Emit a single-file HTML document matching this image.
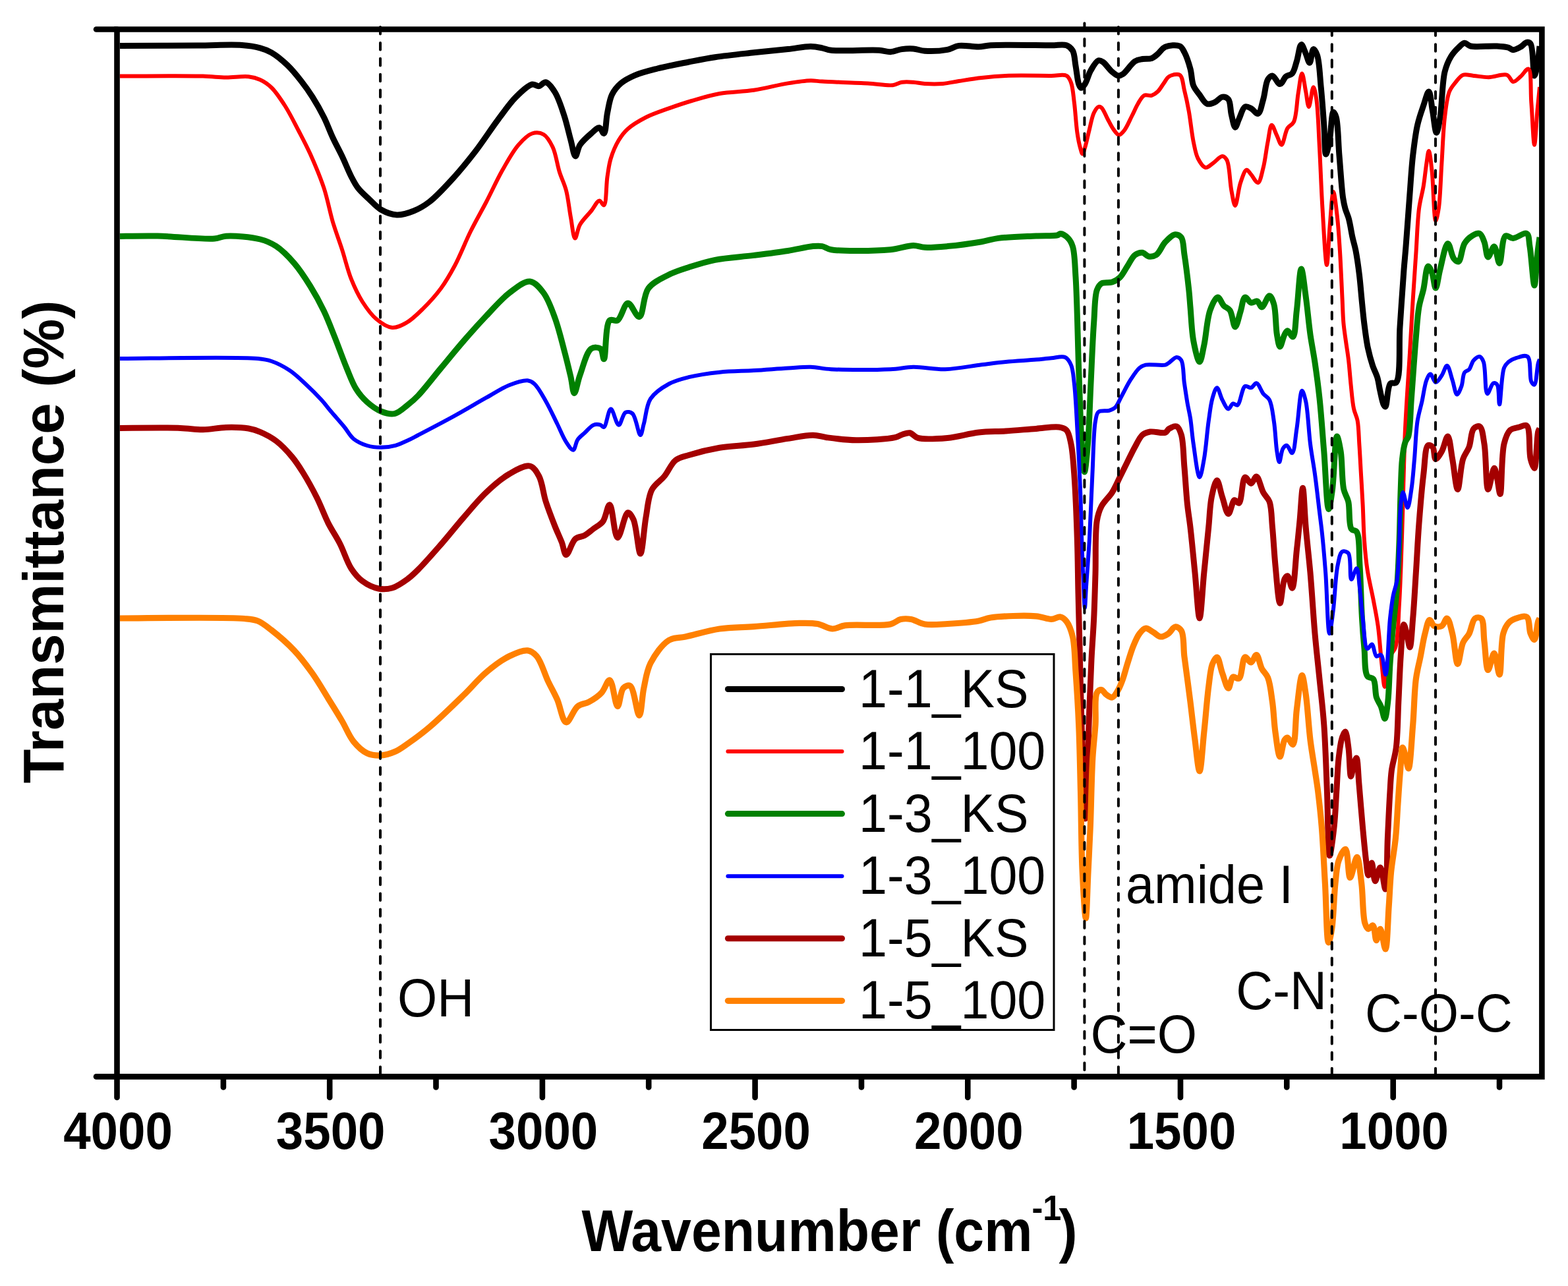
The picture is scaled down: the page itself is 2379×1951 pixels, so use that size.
<!DOCTYPE html>
<html><head><meta charset="utf-8"><title>FTIR spectra</title>
<style>html,body{margin:0;padding:0;background:#fff;overflow:hidden}svg{display:block}</style></head><body>
<svg width="2379" height="1951" viewBox="0 0 2379 1951">
<rect x="0" y="0" width="2379" height="1951" fill="#fff"/>
<g fill="none" stroke-linejoin="round" stroke-linecap="butt">
<path d="M182.0,69.4C201.7,69.3 266.2,69.2 300.0,69.0C325.5,68.9 349.6,67.2 367.0,68.5C378.3,69.3 386.7,70.6 394.7,72.8C401.3,74.6 406.0,76.3 412.0,79.8C419.7,84.3 428.6,91.7 436.0,98.8C443.6,106.1 450.6,114.8 457.0,123.0C463.2,130.9 468.5,138.3 474.0,147.0C480.0,156.5 486.3,167.5 491.5,178.0C496.6,188.2 500.3,199.0 505.0,209.0C509.5,218.6 514.4,227.4 519.0,237.0C523.8,247.0 528.5,259.3 533.0,268.0C536.4,274.6 538.8,279.5 543.0,285.0C547.7,291.2 554.7,297.1 560.6,302.7C566.3,308.1 571.3,314.1 578.0,318.0C585.0,322.0 593.8,325.6 602.0,326.0C610.4,326.4 619.5,323.3 627.7,320.0C636.1,316.7 643.5,312.4 651.8,306.0C662.8,297.5 675.1,283.9 686.4,271.6C698.2,258.7 709.7,244.6 721.0,230.0C732.8,214.7 744.5,196.3 755.5,181.7C765.0,169.0 773.5,156.4 783.0,147.0C790.9,139.1 800.7,129.4 807.4,128.0C811.4,127.2 814.4,131.1 817.8,130.6C821.3,130.1 824.5,124.2 828.0,124.7C832.6,125.4 837.9,133.4 842.0,140.0C847.6,148.9 851.8,162.8 855.8,174.8C859.9,187.1 862.9,201.6 866.0,212.8C868.5,221.8 870.5,236.9 873.0,237.0C875.2,237.1 876.4,225.1 880.0,219.7C884.1,213.5 891.6,207.1 897.0,202.5C901.3,198.9 906.0,193.3 909.4,193.8C912.3,194.2 914.5,203.0 916.3,202.5C919.4,201.7 919.4,181.4 921.5,171.4C923.5,161.9 924.6,151.5 928.4,143.7C931.8,136.8 936.4,131.2 942.0,126.4C947.9,121.3 954.9,117.8 963.0,114.3C972.9,110.1 985.0,107.2 997.5,104.0C1012.0,100.3 1029.8,97.0 1045.0,94.0C1058.9,91.3 1070.4,88.9 1085.0,86.7C1102.7,84.1 1124.7,81.9 1143.7,79.8C1161.5,77.9 1180.0,76.3 1195.5,74.6C1208.2,73.2 1220.5,70.3 1230.0,70.4C1236.8,70.5 1242.0,71.7 1247.4,72.8C1252.2,73.8 1254.6,75.5 1261.0,76.3C1275.6,78.1 1318.0,75.2 1333.8,76.3C1341.5,76.8 1345.3,79.0 1351.0,78.7C1356.8,78.4 1362.6,75.4 1368.4,74.6C1374.1,73.8 1380.0,73.5 1385.7,73.9C1391.5,74.3 1396.2,76.8 1403.0,77.3C1412.5,77.9 1428.1,77.1 1437.5,75.3C1444.4,74.0 1448.1,70.3 1454.8,69.4C1463.4,68.2 1476.2,71.3 1485.0,71.0C1491.8,70.8 1494.7,69.3 1503.0,68.8C1521.8,67.7 1574.7,68.8 1595.2,68.8C1605.4,68.8 1612.5,66.7 1618.2,68.8C1622.4,70.4 1625.2,73.0 1627.5,76.9C1630.6,82.3 1630.5,91.9 1632.0,100.0C1633.6,108.8 1634.7,122.0 1636.7,127.6C1637.7,130.3 1638.6,133.1 1640.0,133.3C1641.6,133.5 1644.1,130.4 1646.0,127.6C1649.2,123.0 1651.4,113.0 1655.0,106.8C1658.3,101.2 1662.8,92.9 1666.6,91.8C1668.9,91.1 1671.0,92.5 1673.5,94.1C1677.6,96.8 1683.0,105.4 1687.4,109.0C1690.6,111.7 1693.7,114.5 1696.6,114.9C1699.0,115.2 1700.9,114.3 1703.5,112.6C1708.5,109.4 1716.1,96.7 1722.0,93.0C1725.9,90.6 1729.4,90.3 1733.5,89.5C1737.8,88.7 1743.3,89.8 1747.3,88.4C1750.9,87.1 1753.4,84.6 1756.5,82.0C1760.2,79.0 1763.1,73.2 1768.0,71.1C1773.8,68.6 1785.1,67.7 1790.0,70.0C1793.6,71.7 1794.7,75.2 1796.9,79.2C1800.2,85.4 1803.7,96.0 1806.0,104.5C1808.3,112.9 1807.9,123.0 1810.7,129.9C1813.0,135.5 1816.6,139.2 1820.0,143.7C1823.5,148.4 1827.1,156.0 1831.4,157.5C1834.9,158.8 1839.3,156.8 1843.0,155.2C1847.0,153.5 1850.8,147.6 1854.5,147.1C1857.6,146.7 1861.4,147.9 1863.7,150.6C1867.2,154.7 1866.5,166.3 1868.3,173.6C1870.0,180.4 1871.9,193.0 1874.0,193.2C1875.8,193.3 1877.6,185.2 1879.8,180.6C1882.5,175.0 1885.1,163.8 1889.0,162.0C1891.7,160.8 1895.2,162.9 1898.2,164.4C1901.7,166.1 1905.8,173.3 1908.6,172.5C1912.4,171.4 1914.3,158.6 1916.7,150.6C1919.4,141.5 1920.0,126.4 1923.6,120.6C1925.5,117.5 1928.0,114.7 1930.5,114.9C1934.0,115.2 1938.4,127.7 1942.0,127.6C1945.3,127.5 1947.8,118.8 1951.2,116.0C1954.1,113.7 1958.0,114.2 1960.5,111.4C1963.9,107.6 1965.2,99.7 1967.4,93.0C1969.9,85.3 1971.6,67.9 1974.3,67.6C1976.4,67.4 1979.1,76.8 1981.2,81.5C1983.3,86.1 1985.2,95.4 1987.0,95.3C1989.1,95.2 1990.3,75.0 1992.7,74.6C1994.4,74.3 1996.9,79.3 1998.5,83.8C2001.9,93.4 2002.5,115.3 2004.2,132.2C2006.0,150.5 2007.5,171.9 2008.8,189.8C2009.9,205.5 2009.7,233.8 2011.7,234.0C2013.0,234.1 2015.4,222.7 2017.0,215.0C2019.4,203.2 2020.2,170.5 2023.0,170.0C2024.3,169.8 2026.1,173.9 2027.3,178.0C2030.3,188.3 2030.3,216.2 2032.0,236.0C2033.8,256.8 2035.5,285.7 2037.6,300.0C2038.7,307.3 2039.5,311.2 2041.0,316.5C2042.4,321.7 2044.7,325.7 2046.3,331.6C2048.5,339.5 2050.1,351.4 2052.0,360.0C2053.6,367.3 2055.4,372.3 2056.9,380.0C2058.9,390.4 2060.9,404.6 2062.4,417.0C2063.9,429.3 2064.8,441.7 2066.0,454.0C2067.2,466.2 2068.3,478.4 2069.8,490.6C2071.4,502.9 2072.9,516.2 2075.3,527.5C2077.4,537.4 2080.0,546.8 2082.7,555.0C2085.0,561.8 2088.2,567.2 2090.0,573.5C2091.8,579.6 2092.2,585.6 2093.7,592.0C2095.3,599.0 2097.2,610.2 2099.3,614.0C2100.2,615.6 2101.1,617.2 2102.0,617.0C2104.6,616.3 2104.7,586.8 2109.5,582.0C2111.9,579.6 2116.1,582.8 2118.5,580.0C2125.8,571.5 2122.1,524.2 2124.0,496.0C2125.9,467.3 2128.3,431.5 2130.0,409.0C2131.1,394.7 2131.9,388.1 2133.0,374.0C2134.7,352.7 2137.1,318.0 2139.0,293.4C2140.6,272.6 2141.6,253.9 2143.7,235.8C2145.6,219.5 2147.5,203.3 2150.6,189.7C2153.1,178.6 2156.7,168.8 2159.8,159.8C2162.4,152.2 2165.6,138.8 2167.8,139.0C2170.4,139.2 2171.7,158.8 2173.6,169.0C2175.6,179.6 2177.3,201.2 2179.4,201.3C2181.2,201.4 2183.3,188.0 2185.0,178.2C2187.9,161.4 2187.9,125.7 2192.0,109.0C2194.5,99.0 2197.4,92.4 2201.3,86.0C2204.6,80.5 2209.0,75.9 2212.8,72.3C2215.9,69.4 2218.8,65.6 2222.0,65.3C2225.0,65.0 2226.9,69.0 2231.2,70.0C2239.6,72.0 2259.8,69.3 2270.4,70.0C2277.7,70.5 2284.2,70.9 2288.8,72.3C2291.7,73.2 2293.1,75.6 2295.7,75.7C2299.0,75.8 2303.7,73.1 2307.2,71.1C2310.6,69.2 2313.6,64.6 2316.4,64.2C2318.5,63.9 2320.6,64.4 2322.2,66.5C2326.7,72.3 2325.7,114.8 2328.0,115.0C2329.4,115.1 2331.3,104.1 2332.6,97.6C2334.2,89.5 2335.4,74.6 2336.0,70.0" stroke="#000000" stroke-width="9"/>
<path d="M182.0,115.6C203.0,115.6 279.0,114.8 308.0,115.6C323.3,116.0 331.4,117.4 343.0,117.5C354.4,117.6 367.6,115.1 377.0,116.2C383.9,117.0 389.1,118.4 394.7,121.0C400.8,123.8 406.4,127.6 412.0,133.0C419.2,140.0 426.1,150.7 432.7,161.0C440.0,172.5 446.9,186.6 453.4,199.0C459.5,210.7 464.9,220.8 470.7,233.6C477.6,249.0 485.7,268.0 491.5,285.4C497.1,302.4 500.2,320.8 505.0,337.0C509.4,351.7 514.4,364.5 519.0,378.7C523.7,393.4 527.5,409.9 533.0,423.7C538.0,436.1 543.4,447.7 550.0,458.0C556.2,467.6 563.0,477.4 571.0,484.0C578.2,490.0 587.0,496.3 595.0,497.0C602.4,497.6 609.8,493.5 617.0,489.4C625.4,484.6 633.4,476.6 641.5,468.6C650.7,459.6 660.9,448.5 669.0,437.5C677.0,426.6 683.1,415.9 690.0,403.0C698.2,387.6 705.8,367.6 714.0,351.0C721.8,335.3 730.0,321.3 738.0,306.0C746.2,290.2 754.0,272.7 762.5,257.8C770.3,244.2 778.1,229.4 786.7,219.7C793.3,212.2 800.3,204.7 807.4,202.5C813.1,200.7 819.8,201.2 824.7,204.0C830.4,207.2 834.7,215.2 838.5,223.0C843.4,233.1 845.2,249.4 848.9,261.0C852.1,271.1 856.3,278.6 859.0,289.0C862.2,301.2 863.6,317.3 866.0,330.0C868.1,341.2 869.8,361.3 872.4,361.5C874.6,361.7 876.2,347.3 880.0,340.7C884.2,333.4 891.8,326.4 897.0,320.0C901.5,314.5 905.8,304.6 909.4,304.4C911.9,304.3 914.5,311.9 916.3,311.3C920.2,310.0 919.5,280.8 921.5,268.0C923.1,257.8 923.9,249.5 926.7,240.5C929.6,231.1 933.9,220.7 938.7,212.8C942.8,206.0 946.6,200.8 952.6,195.5C959.8,189.0 970.1,183.1 980.0,178.0C990.7,172.6 1003.2,168.6 1014.8,164.4C1026.3,160.3 1037.2,156.6 1049.4,153.0C1062.8,149.1 1076.8,144.7 1091.8,142.0C1108.1,139.1 1126.5,139.4 1143.7,136.8C1161.0,134.2 1179.9,128.9 1195.5,126.4C1208.1,124.4 1220.4,122.5 1230.0,122.3C1236.8,122.2 1239.7,123.2 1247.4,123.6C1262.8,124.5 1296.9,125.3 1316.5,126.4C1331.1,127.2 1345.0,130.3 1354.5,129.2C1360.4,128.5 1363.4,125.5 1368.4,124.7C1373.8,123.8 1379.9,124.3 1385.7,124.7C1391.5,125.1 1396.5,126.6 1403.0,127.0C1411.1,127.5 1421.7,127.7 1430.6,127.0C1439.0,126.3 1446.0,124.4 1454.8,123.0C1465.3,121.4 1477.7,119.3 1489.4,118.0C1501.4,116.6 1511.9,115.5 1526.0,114.9C1545.4,114.1 1578.3,114.9 1595.2,114.9C1604.9,114.9 1613.2,112.2 1618.2,114.9C1621.9,116.9 1623.2,120.7 1625.0,125.3C1627.8,132.5 1628.4,144.1 1629.8,155.2C1631.6,168.9 1632.5,188.6 1634.4,201.3C1635.7,210.3 1637.3,218.4 1639.0,224.3C1640.1,228.1 1641.2,233.5 1642.4,233.5C1643.6,233.5 1644.7,228.2 1646.0,224.3C1648.1,217.6 1650.5,205.7 1652.8,196.7C1655.0,188.0 1656.7,177.5 1659.7,171.3C1661.7,167.2 1664.2,162.8 1666.6,162.0C1668.1,161.5 1669.7,162.1 1671.2,163.3C1674.3,165.8 1677.4,174.9 1680.5,180.5C1683.5,186.0 1686.4,192.4 1689.7,196.7C1692.2,200.0 1695.0,204.6 1697.7,204.7C1700.3,204.8 1703.2,201.1 1705.8,197.8C1709.8,192.8 1713.7,183.0 1717.3,176.0C1720.6,169.6 1723.2,163.0 1726.5,157.5C1729.4,152.7 1732.0,146.8 1735.8,144.8C1739.1,143.1 1743.8,145.8 1747.3,144.8C1750.7,143.8 1753.7,141.6 1756.5,139.0C1759.9,135.8 1762.7,130.4 1765.7,126.4C1768.5,122.7 1770.1,118.2 1773.8,116.0C1777.9,113.6 1786.2,111.3 1790.0,113.7C1794.6,116.7 1794.8,128.4 1796.9,136.8C1799.4,146.6 1801.7,157.3 1803.8,169.0C1806.3,182.9 1808.0,202.0 1810.7,215.0C1812.8,224.8 1814.0,233.6 1817.6,240.5C1820.6,246.2 1824.9,253.6 1829.1,254.3C1832.7,254.9 1836.7,250.0 1840.6,247.4C1845.1,244.4 1850.7,236.9 1854.5,237.0C1857.2,237.1 1859.5,239.4 1861.4,242.8C1865.7,250.5 1865.8,276.1 1868.3,288.8C1870.1,297.9 1872.0,311.9 1874.0,311.9C1876.5,311.9 1878.7,287.1 1882.1,277.3C1884.7,269.7 1888.0,258.3 1891.3,257.7C1893.5,257.3 1895.7,262.0 1898.2,264.7C1901.4,268.2 1905.7,277.8 1908.6,277.3C1912.1,276.7 1914.4,263.1 1916.7,254.3C1919.6,243.0 1921.2,226.6 1923.6,215.0C1925.5,205.6 1926.8,190.1 1929.4,189.8C1931.6,189.5 1934.8,200.7 1937.4,205.9C1939.8,210.7 1942.0,219.8 1944.3,219.7C1947.4,219.5 1949.6,200.5 1953.5,194.4C1956.2,190.2 1960.4,190.0 1962.8,185.2C1967.3,176.4 1967.4,154.6 1969.7,141.4C1971.6,130.4 1973.4,111.4 1975.4,111.4C1977.3,111.4 1979.4,130.2 1981.2,139.0C1982.8,147.0 1984.0,162.1 1985.8,162.1C1987.8,162.1 1990.6,132.2 1992.7,132.2C1994.4,132.2 1996.0,142.3 1997.3,150.6C1999.8,166.9 2000.5,198.4 2002.0,224.3C2003.6,253.3 2004.6,286.4 2006.5,316.5C2008.3,345.5 2011.0,402.0 2013.0,402.0C2014.6,402.0 2015.8,363.7 2017.5,345.0C2019.1,326.7 2020.9,291.1 2023.0,291.0C2024.8,291.0 2027.4,316.2 2029.0,330.0C2030.8,345.6 2031.7,361.7 2032.9,380.0C2034.3,402.2 2035.6,433.7 2036.6,454.0C2037.3,468.1 2037.4,478.8 2038.4,490.0C2039.3,499.9 2040.7,508.7 2042.0,518.0C2043.3,527.3 2044.8,536.0 2046.0,546.0C2047.4,557.5 2048.2,570.7 2049.5,583.0C2050.8,595.3 2051.8,609.9 2054.0,620.0C2055.5,627.2 2058.2,630.8 2059.6,638.0C2061.5,648.0 2061.5,662.1 2062.4,675.0C2063.4,689.3 2064.1,705.0 2065.0,720.0C2065.9,735.1 2066.8,749.6 2067.6,765.5C2068.5,782.8 2068.7,802.8 2070.0,820.0C2071.1,835.6 2072.3,849.6 2074.6,864.5C2076.9,879.8 2081.0,895.9 2083.8,910.6C2086.3,924.2 2088.7,935.4 2090.7,949.7C2093.1,967.0 2094.5,990.5 2096.4,1007.3C2097.9,1020.3 2099.1,1042.0 2101.0,1042.0C2103.2,1042.0 2105.1,1006.7 2109.0,996.0C2111.3,989.7 2115.1,988.7 2117.2,982.0C2121.6,968.3 2121.4,940.5 2123.0,915.2C2125.1,882.0 2126.1,840.9 2127.5,800.0C2129.1,753.4 2129.9,697.0 2132.0,650.4C2133.9,609.5 2136.9,570.2 2139.0,535.2C2140.7,505.9 2142.1,480.4 2143.7,454.6C2145.2,430.7 2146.8,408.5 2148.3,385.5C2149.9,362.5 2150.5,335.4 2153.0,316.4C2154.8,302.9 2157.9,293.4 2159.8,281.9C2161.7,270.4 2162.9,257.0 2164.4,247.3C2165.5,240.2 2166.6,228.9 2167.8,228.9C2169.3,228.9 2171.1,246.5 2172.5,258.8C2174.8,278.3 2175.5,334.7 2178.2,334.9C2179.5,335.0 2181.5,324.6 2182.8,316.4C2185.2,300.8 2185.9,270.3 2187.4,247.3C2188.9,224.3 2189.6,197.9 2192.0,178.2C2193.8,163.2 2195.2,148.5 2199.0,139.0C2201.5,132.9 2204.7,129.4 2208.2,125.2C2211.6,121.0 2215.1,115.4 2219.7,113.7C2224.3,112.0 2230.0,114.4 2235.8,114.9C2242.8,115.5 2250.8,117.3 2258.8,117.2C2267.6,117.1 2280.1,111.3 2286.5,113.7C2291.0,115.4 2292.3,123.6 2295.7,124.0C2299.2,124.4 2303.5,119.1 2307.2,116.0C2311.2,112.7 2316.2,103.5 2319.0,104.5C2323.9,106.3 2321.9,137.3 2323.3,155.2C2324.9,175.4 2326.4,219.7 2328.0,219.7C2329.5,219.7 2331.1,182.5 2332.6,166.7C2333.8,153.9 2335.4,137.8 2336.0,132.0" stroke="#ff0000" stroke-width="6"/>
<path d="M182.0,358.4C191.5,358.3 218.0,357.6 239.0,358.0C264.8,358.5 307.7,363.5 325.5,362.0C333.6,361.3 335.6,358.7 343.0,358.2C355.6,357.4 380.9,359.4 394.7,363.0C404.6,365.5 411.1,368.4 419.0,373.6C428.4,379.8 438.1,389.8 446.5,399.5C455.4,409.8 463.2,422.0 470.7,434.0C478.3,446.2 485.2,458.9 491.5,472.0C497.9,485.4 503.0,499.4 508.7,513.6C514.5,528.2 520.4,545.0 526.0,558.5C530.8,569.9 534.4,580.6 540.0,589.6C544.9,597.5 550.6,604.2 557.0,610.0C563.3,615.6 570.7,621.1 578.0,624.0C584.6,626.7 592.0,629.0 598.6,627.6C605.7,626.1 612.8,618.8 619.0,614.0C624.7,609.6 628.7,606.2 634.6,600.0C644.1,590.1 657.5,572.3 669.0,558.5C680.5,544.7 692.0,530.4 703.7,517.0C715.0,503.9 726.4,491.2 738.0,479.0C749.4,467.0 760.9,453.4 772.8,444.4C783.0,436.7 794.9,426.1 804.0,427.0C811.9,427.8 818.8,436.6 824.7,444.4C832.0,454.1 837.0,468.8 842.0,482.5C847.5,497.5 851.7,515.3 855.8,530.8C859.6,545.0 863.2,560.0 866.0,572.0C868.1,581.2 869.1,596.4 871.3,596.5C873.7,596.6 876.3,578.9 880.0,569.0C884.5,556.8 889.7,533.8 897.0,529.0C901.1,526.3 907.8,526.7 911.0,529.0C914.5,531.5 914.6,544.9 916.3,544.7C919.5,544.4 918.0,492.1 925.0,486.0C928.2,483.3 933.3,488.1 937.0,486.0C942.9,482.7 946.9,460.5 952.6,460.0C958.0,459.6 965.2,481.7 970.0,480.7C976.2,479.5 975.5,448.3 983.7,437.5C991.1,427.7 1004.2,422.2 1014.8,416.8C1024.7,411.8 1034.1,409.0 1045.0,405.5C1057.3,401.5 1070.3,397.2 1085.0,394.3C1102.6,390.8 1124.8,389.8 1143.7,387.4C1161.5,385.2 1179.6,383.0 1195.5,380.5C1209.2,378.3 1224.0,374.5 1233.6,373.6C1239.3,373.1 1242.9,372.8 1247.4,373.6C1252.0,374.4 1254.3,377.5 1261.0,378.7C1277.6,381.7 1328.1,380.7 1351.0,378.7C1365.3,377.4 1376.1,372.6 1385.7,372.5C1392.5,372.4 1396.2,374.9 1403.0,375.3C1412.5,375.8 1424.9,374.7 1437.5,373.6C1453.1,372.2 1475.2,369.1 1489.4,366.7C1499.3,365.0 1504.4,362.8 1514.6,361.4C1529.8,359.4 1555.6,358.8 1572.0,358.0C1584.3,357.4 1598.6,358.3 1604.4,356.8C1606.7,356.2 1607.1,354.4 1609.0,354.5C1612.0,354.6 1617.4,358.2 1620.5,361.4C1623.7,364.7 1625.7,368.2 1627.5,374.0C1630.7,384.3 1630.7,400.5 1632.0,420.0C1634.2,454.0 1635.1,515.8 1636.7,560.0C1638.2,599.8 1639.3,644.8 1641.3,673.5C1642.5,691.1 1643.9,716.0 1645.4,716.0C1646.9,716.0 1649.1,690.4 1650.5,673.5C1652.6,648.7 1653.5,612.0 1655.0,581.3C1656.5,550.5 1657.8,514.9 1659.7,489.0C1661.1,470.1 1660.7,449.9 1664.3,440.0C1666.1,435.1 1667.8,432.1 1671.2,430.0C1675.1,427.6 1682.6,429.7 1687.4,428.0C1691.8,426.5 1695.5,424.4 1699.0,421.0C1703.3,416.9 1706.6,409.7 1710.4,404.0C1714.2,398.3 1717.5,390.1 1722.0,386.8C1725.4,384.3 1730.0,382.8 1733.5,383.3C1736.8,383.7 1739.3,388.4 1742.7,389.0C1746.2,389.6 1750.6,389.1 1754.2,386.8C1759.3,383.5 1762.9,372.6 1768.0,367.2C1772.6,362.4 1778.5,356.1 1783.0,355.7C1786.4,355.4 1790.0,357.3 1792.3,360.3C1795.9,365.1 1795.3,375.5 1796.9,385.6C1799.2,400.3 1802.2,425.2 1803.8,440.0C1804.9,450.2 1805.1,455.9 1806.0,466.0C1807.3,480.1 1807.9,501.9 1810.7,516.8C1813.0,528.9 1817.2,549.0 1820.0,549.0C1822.5,549.0 1824.6,533.7 1826.8,523.7C1830.0,509.3 1831.2,483.8 1836.0,470.7C1839.1,462.2 1843.8,451.2 1847.6,451.0C1850.7,450.9 1853.5,460.4 1856.8,463.8C1859.7,466.7 1863.5,467.1 1866.0,470.7C1869.9,476.2 1871.3,496.0 1874.0,496.0C1876.6,496.0 1879.5,480.6 1882.0,473.0C1884.5,465.6 1885.6,451.9 1889.0,451.0C1891.5,450.3 1894.9,458.4 1898.2,459.2C1901.1,459.9 1904.9,456.0 1907.5,456.9C1910.4,457.9 1911.9,466.1 1914.4,466.0C1917.8,465.9 1922.8,448.6 1926.0,448.8C1928.7,448.9 1931.0,455.7 1932.8,461.5C1936.0,471.9 1935.3,495.8 1937.4,507.6C1938.7,515.2 1940.1,525.9 1942.0,526.0C1943.9,526.1 1946.6,511.9 1949.0,507.6C1950.5,505.0 1951.7,501.9 1953.5,501.8C1955.8,501.7 1959.5,511.6 1961.6,511.0C1965.5,509.8 1965.5,485.6 1967.4,470.7C1969.8,452.1 1971.7,408.1 1974.3,408.0C1976.4,407.9 1979.1,434.9 1981.2,450.0C1983.7,467.7 1985.5,489.9 1988.0,507.6C1990.2,522.8 1992.8,535.0 1995.0,550.0C1997.5,567.0 1999.9,584.4 2002.0,604.3C2004.6,628.5 2006.5,657.6 2008.8,685.0C2011.1,713.6 2012.9,772.3 2015.8,772.5C2017.5,772.6 2019.8,755.0 2021.5,742.6C2024.3,722.3 2025.3,662.3 2028.4,662.0C2030.1,661.9 2032.6,675.5 2034.2,685.0C2036.6,699.8 2035.7,728.9 2038.8,742.6C2040.6,750.6 2043.9,753.5 2045.7,761.0C2048.3,771.9 2045.9,795.9 2050.3,802.5C2052.4,805.6 2056.3,803.8 2058.4,807.0C2063.3,814.5 2061.7,838.8 2063.0,857.6C2064.6,881.3 2065.1,915.1 2066.5,938.2C2067.5,955.7 2068.6,969.4 2070.0,984.3C2071.3,998.5 2070.0,1019.0 2074.6,1025.7C2076.9,1029.0 2081.5,1027.3 2083.8,1030.4C2087.5,1035.5 2086.0,1050.5 2088.4,1058.0C2090.2,1063.6 2093.3,1066.8 2095.3,1071.8C2097.6,1077.4 2099.4,1090.4 2101.0,1090.3C2102.9,1090.2 2104.5,1075.2 2105.7,1065.0C2107.5,1049.7 2107.7,1026.5 2109.0,1007.3C2110.3,988.1 2112.0,968.9 2113.7,949.7C2115.5,930.5 2118.0,912.2 2119.5,892.1C2121.2,870.1 2122.1,846.9 2123.0,823.0C2124.0,797.2 2124.3,765.6 2125.2,742.5C2125.9,725.0 2126.0,709.5 2127.5,696.4C2128.6,686.6 2129.9,677.2 2132.0,671.0C2133.3,667.1 2135.5,666.4 2136.8,661.9C2139.9,651.1 2139.7,625.8 2141.4,604.3C2143.5,577.2 2146.1,537.5 2148.3,512.1C2149.9,494.1 2150.6,479.3 2152.9,466.0C2154.7,455.6 2157.6,448.1 2159.8,438.4C2162.2,427.6 2163.6,404.6 2166.7,404.0C2168.4,403.7 2170.8,409.2 2172.5,413.2C2175.0,419.1 2176.2,437.0 2178.2,437.0C2180.4,437.0 2182.3,418.8 2185.0,408.6C2188.2,396.5 2192.7,369.6 2196.6,369.4C2199.7,369.3 2202.2,388.0 2205.9,392.5C2208.0,395.1 2210.7,397.7 2212.8,397.0C2216.7,395.6 2217.8,376.3 2222.0,369.4C2225.2,364.3 2229.3,360.4 2233.5,357.9C2237.1,355.7 2242.0,353.2 2245.0,354.4C2248.3,355.7 2250.0,362.1 2252.0,367.1C2254.5,373.5 2255.0,389.7 2257.7,390.1C2260.1,390.4 2264.3,373.7 2267.0,374.0C2270.2,374.4 2272.4,399.5 2275.0,399.4C2278.2,399.3 2278.4,361.3 2284.2,357.9C2287.3,356.1 2291.3,361.5 2295.7,361.4C2301.6,361.3 2312.2,352.1 2316.4,354.4C2320.4,356.6 2319.5,365.7 2321.0,374.0C2323.5,388.3 2326.0,433.0 2328.0,433.0C2329.8,433.0 2331.1,398.9 2332.6,385.5C2333.7,375.7 2335.4,364.2 2336.0,360.0" stroke="#008000" stroke-width="9"/>
<path d="M182.0,544.0C216.8,544.0 357.5,540.8 391.0,544.0C401.7,545.0 404.7,545.5 412.0,548.0C420.8,551.0 431.0,556.3 439.6,562.0C448.3,567.8 455.9,575.4 463.8,582.7C472.0,590.3 481.2,599.5 488.0,607.0C493.5,613.0 496.8,617.9 502.0,624.0C508.2,631.3 516.5,640.5 522.6,648.0C527.7,654.3 530.7,661.0 536.4,665.7C542.2,670.4 549.9,673.8 557.0,676.0C563.8,678.1 570.9,678.8 578.0,678.8C585.2,678.8 593.0,677.7 600.0,675.8C606.7,674.0 613.0,670.7 619.0,668.0C624.5,665.5 627.9,663.5 634.6,660.0C646.9,653.6 669.2,642.0 686.4,632.6C703.7,623.1 722.5,611.9 738.0,603.2C750.7,596.1 761.6,588.6 772.8,584.2C782.3,580.5 793.6,576.5 800.5,577.3C804.9,577.8 807.4,579.4 810.9,582.5C816.6,587.5 822.5,599.0 828.0,608.4C834.1,618.9 840.0,632.1 845.4,643.0C850.2,652.7 854.3,663.5 859.0,670.6C862.4,675.7 866.7,683.1 869.6,682.7C872.6,682.2 873.4,671.4 876.5,667.0C879.3,662.9 883.2,660.3 887.0,656.8C891.2,652.9 896.1,646.4 900.7,644.7C904.1,643.4 908.2,643.9 911.0,644.7C913.2,645.3 914.6,648.6 916.3,648.0C920.0,646.7 922.9,620.7 926.7,620.5C930.4,620.3 934.8,644.6 938.7,644.7C942.2,644.8 944.7,627.8 949.0,625.7C952.1,624.2 956.5,624.9 959.5,627.4C965.0,631.9 968.5,660.1 971.6,660.0C973.8,659.9 974.8,649.8 976.8,643.0C979.7,632.9 980.4,615.2 987.0,605.0C993.3,595.3 1004.8,588.0 1014.8,582.5C1024.2,577.3 1033.7,575.0 1045.0,572.2C1058.8,568.8 1075.7,566.4 1091.8,564.7C1108.6,562.9 1126.4,563.0 1143.7,562.0C1161.0,561.0 1180.0,559.4 1195.5,558.5C1208.2,557.8 1218.8,556.5 1230.0,556.8C1240.6,557.1 1248.0,559.5 1261.0,560.2C1283.2,561.4 1328.0,561.3 1351.0,560.2C1365.3,559.5 1373.2,557.0 1385.7,556.8C1400.5,556.6 1417.4,560.6 1434.0,560.2C1451.9,559.7 1472.8,555.3 1489.4,553.3C1502.9,551.7 1513.1,550.2 1526.0,549.0C1540.4,547.6 1559.3,546.7 1572.0,545.6C1581.0,544.8 1587.7,543.9 1595.2,543.3C1602.3,542.7 1610.9,539.7 1616.0,542.0C1620.3,543.9 1622.8,548.6 1625.0,553.6C1628.1,560.6 1628.4,569.9 1629.8,581.3C1631.9,599.1 1633.0,625.7 1634.4,650.4C1636.1,678.9 1637.8,713.2 1639.0,742.6C1640.1,769.5 1640.4,794.8 1641.3,820.0C1642.1,843.9 1643.1,871.2 1644.0,890.0C1644.6,902.7 1645.2,922.0 1645.9,922.0C1646.6,922.0 1647.1,902.7 1648.0,890.0C1649.3,871.2 1651.3,845.4 1652.8,820.0C1654.5,789.5 1655.8,751.1 1657.4,719.5C1658.9,691.1 1659.0,654.6 1662.0,638.9C1663.3,632.2 1663.3,627.7 1666.6,625.0C1670.1,622.1 1678.3,624.2 1682.8,622.8C1686.4,621.7 1689.3,620.8 1692.0,618.2C1695.7,614.7 1697.9,608.0 1701.2,602.0C1705.4,594.5 1710.1,584.3 1715.0,576.7C1719.4,569.9 1724.2,562.0 1728.8,558.2C1731.9,555.6 1733.9,554.6 1738.0,553.6C1745.0,551.9 1762.0,555.2 1768.0,553.6C1770.8,552.8 1771.6,551.6 1773.8,550.2C1777.0,548.1 1781.9,542.0 1785.3,542.0C1787.9,542.0 1790.5,543.8 1792.3,546.7C1796.0,552.6 1795.3,570.2 1796.9,581.3C1798.4,591.6 1799.9,601.9 1801.5,611.2C1802.9,619.4 1804.6,625.6 1806.0,634.3C1807.8,645.6 1808.6,659.6 1810.7,673.5C1813.1,689.3 1816.9,723.9 1820.0,724.0C1822.3,724.1 1824.8,707.4 1826.8,696.5C1829.7,680.9 1831.3,655.7 1833.7,639.0C1835.6,626.0 1836.8,613.5 1839.5,604.3C1841.4,597.8 1844.0,588.2 1846.4,588.2C1849.0,588.2 1851.5,601.0 1854.5,606.6C1857.3,611.7 1860.7,620.3 1863.7,620.5C1866.1,620.6 1868.0,613.1 1870.6,612.4C1872.7,611.8 1875.3,615.7 1877.5,614.7C1881.9,612.6 1884.1,588.6 1889.0,586.0C1891.7,584.6 1895.4,588.9 1898.2,588.2C1901.2,587.5 1903.6,580.9 1906.3,581.3C1909.9,581.8 1913.1,592.9 1916.7,597.4C1919.7,601.1 1923.5,602.1 1926.0,606.6C1929.9,613.8 1931.0,627.2 1932.8,639.0C1935.0,652.9 1935.6,673.7 1937.4,685.0C1938.5,691.8 1939.6,701.0 1941.0,701.0C1942.6,701.0 1943.8,684.6 1946.6,680.4C1948.2,677.9 1950.5,675.5 1952.4,675.8C1955.1,676.2 1958.3,687.8 1960.5,687.3C1964.1,686.5 1965.2,664.1 1967.4,650.4C1970.2,633.4 1972.2,593.1 1975.4,592.8C1977.2,592.6 1979.5,601.7 1981.2,609.0C1984.4,623.2 1985.5,653.8 1988.0,673.5C1990.1,690.2 1992.8,703.3 1995.0,719.5C1997.5,737.6 2000.0,760.5 2002.0,777.0C2003.5,789.5 2004.7,797.4 2006.0,810.0C2007.8,826.8 2009.5,847.1 2011.2,869.0C2013.3,896.3 2014.4,961.2 2017.0,961.3C2018.6,961.4 2020.9,940.2 2022.7,926.7C2025.2,907.6 2026.1,873.8 2029.6,857.6C2031.5,848.5 2032.8,838.9 2036.5,836.9C2039.0,835.6 2043.4,836.6 2045.7,839.2C2050.4,844.6 2047.3,878.5 2050.3,879.0C2052.3,879.3 2056.4,861.9 2058.4,862.2C2061.0,862.6 2061.6,881.0 2063.0,892.1C2064.7,905.8 2065.7,922.9 2067.6,938.2C2069.5,953.6 2070.4,982.9 2074.6,984.3C2076.5,984.9 2079.5,977.0 2081.5,977.4C2084.4,978.0 2085.2,994.3 2088.4,995.8C2090.4,996.7 2093.4,992.4 2095.3,993.5C2099.2,995.7 2100.3,1023.5 2102.2,1023.4C2105.4,1023.2 2106.6,960.3 2109.0,938.2C2110.5,924.1 2111.7,914.0 2113.7,903.7C2115.3,895.2 2118.0,890.1 2119.5,880.6C2121.8,865.8 2122.0,842.2 2123.0,823.0C2123.9,803.8 2123.6,779.3 2125.2,765.5C2126.1,757.6 2127.1,747.2 2128.7,747.1C2130.5,747.0 2133.5,770.3 2135.6,770.2C2137.8,770.1 2139.8,753.0 2141.4,742.5C2143.5,729.1 2144.5,712.6 2146.0,696.4C2147.6,678.3 2148.1,654.8 2150.6,638.8C2152.4,627.1 2155.2,619.1 2157.5,608.9C2159.8,598.4 2161.4,583.9 2164.4,576.6C2166.1,572.4 2168.1,567.4 2170.2,567.4C2172.7,567.4 2175.3,579.9 2178.2,580.1C2181.0,580.3 2184.6,573.7 2187.4,569.7C2190.5,565.3 2193.0,554.6 2195.5,554.8C2198.4,555.0 2201.1,569.3 2203.6,576.6C2206.1,583.9 2207.9,598.2 2210.5,598.5C2212.6,598.7 2215.6,590.8 2217.4,585.9C2219.6,580.0 2219.1,569.3 2222.0,565.1C2223.8,562.5 2226.9,562.8 2229.0,560.5C2231.8,557.4 2232.8,550.0 2235.8,546.7C2238.3,543.9 2242.5,540.5 2245.0,541.0C2247.4,541.5 2249.2,544.9 2250.8,549.0C2254.4,558.1 2252.7,596.6 2256.5,597.4C2258.9,597.9 2262.6,582.4 2265.8,581.3C2267.7,580.7 2270.0,581.7 2271.5,583.6C2274.8,587.9 2273.6,613.5 2275.0,613.5C2276.9,613.5 2277.8,568.6 2282.0,558.2C2283.9,553.5 2285.9,551.5 2288.8,549.0C2291.9,546.4 2295.9,544.5 2300.3,543.2C2305.4,541.7 2313.6,538.0 2317.6,541.0C2323.5,545.4 2320.1,572.7 2323.3,579.0C2324.6,581.6 2326.7,584.0 2328.0,583.6C2331.0,582.6 2331.9,557.9 2333.7,551.3C2334.5,548.3 2335.6,546.0 2336.0,545.0" stroke="#0000ff" stroke-width="6"/>
<path d="M182.0,649.4C197.3,649.4 250.5,648.6 273.7,649.4C287.9,649.9 296.5,652.0 308.0,651.8C319.6,651.6 331.4,648.7 343.0,648.4C354.4,648.1 367.6,648.4 377.0,650.0C383.9,651.2 388.5,652.7 394.7,655.3C402.3,658.5 411.3,663.2 419.0,669.0C427.5,675.4 436.0,684.6 443.0,693.0C449.6,700.8 454.3,708.3 460.0,717.5C466.9,728.6 474.6,742.7 481.0,755.5C487.3,768.1 492.0,781.7 498.0,793.6C503.6,804.6 510.1,813.7 515.7,824.7C521.8,836.6 526.4,852.6 533.0,862.7C538.2,870.6 543.2,876.7 550.0,881.7C557.0,886.9 566.4,891.4 574.4,893.0C581.4,894.4 588.1,894.0 595.0,892.0C603.0,889.6 612.1,883.0 619.0,878.0C625.0,873.6 628.6,870.0 634.6,864.0C644.0,854.6 657.6,839.0 669.0,826.0C680.7,812.6 692.0,798.1 703.7,784.7C715.1,771.7 726.0,757.9 738.0,746.7C749.1,736.2 761.0,725.8 772.8,719.0C783.0,713.1 796.2,705.1 804.0,707.0C810.2,708.5 814.1,715.6 817.8,722.5C822.9,732.0 824.0,747.9 828.0,760.5C832.1,773.3 837.6,787.3 842.0,798.5C845.6,807.5 849.3,815.1 852.3,822.7C854.9,829.4 856.0,841.4 859.0,841.7C862.6,842.0 867.3,822.3 873.0,817.5C877.1,814.0 882.5,814.7 887.0,812.3C891.8,809.7 896.1,805.4 900.7,802.0C905.3,798.5 910.7,796.5 914.5,791.6C919.3,785.3 921.7,765.5 925.0,765.7C929.4,766.0 932.0,815.4 937.0,815.8C941.4,816.1 947.6,778.6 952.6,777.8C955.5,777.4 958.5,782.9 961.0,788.0C965.9,798.3 968.5,840.1 971.6,840.0C974.8,839.9 976.9,801.8 980.0,784.7C982.7,769.8 983.3,754.1 988.9,743.2C993.5,734.3 1002.0,729.9 1008.0,722.5C1014.1,714.9 1018.2,703.7 1025.0,698.3C1030.8,693.7 1036.8,693.1 1045.0,690.5C1057.2,686.7 1075.7,682.0 1091.8,679.3C1108.6,676.5 1126.4,676.3 1143.7,674.0C1161.0,671.7 1179.5,667.8 1195.5,665.4C1209.2,663.3 1222.8,660.0 1233.6,660.2C1241.6,660.3 1246.1,662.6 1254.3,663.7C1266.4,665.3 1283.2,667.6 1299.2,667.8C1317.5,668.0 1346.5,666.3 1358.0,663.7C1363.0,662.5 1364.8,660.6 1368.4,659.5C1372.2,658.3 1376.6,656.1 1380.5,656.8C1384.7,657.5 1387.0,662.8 1392.6,664.4C1402.6,667.3 1422.4,665.7 1437.5,664.4C1453.2,663.0 1469.7,657.7 1485.0,656.0C1499.1,654.4 1511.9,654.8 1526.0,653.9C1540.9,653.0 1557.7,651.4 1572.0,650.4C1584.4,649.5 1598.4,646.7 1606.7,648.0C1611.7,648.8 1615.3,649.6 1618.2,652.7C1622.1,656.9 1623.2,665.1 1625.0,673.5C1627.6,685.7 1628.4,701.2 1629.8,719.5C1631.8,746.5 1633.4,788.4 1634.4,820.0C1635.3,848.2 1635.4,873.3 1636.0,900.0C1636.6,926.7 1637.3,951.8 1638.0,980.0C1638.8,1011.5 1639.6,1048.5 1640.5,1080.0C1641.3,1108.2 1642.0,1133.2 1643.0,1160.0C1644.0,1187.2 1645.3,1242.0 1646.5,1242.0C1647.7,1242.0 1649.0,1187.5 1650.0,1160.0C1651.1,1132.2 1651.8,1103.3 1652.8,1076.0C1653.8,1050.0 1654.8,1024.0 1656.0,1000.0C1657.1,978.3 1658.7,959.2 1659.7,938.0C1660.7,915.9 1661.3,893.6 1662.0,870.0C1662.8,844.4 1661.2,808.2 1664.3,790.0C1665.9,780.2 1667.6,774.9 1671.2,768.0C1675.1,760.6 1682.7,754.4 1687.4,747.0C1692.0,739.7 1695.2,731.7 1699.0,724.0C1702.8,716.3 1706.6,708.7 1710.4,701.0C1714.2,693.3 1718.0,685.2 1722.0,678.0C1725.7,671.4 1729.0,663.4 1733.5,659.6C1736.9,656.7 1740.4,655.8 1745.0,655.0C1751.3,654.0 1763.1,658.1 1768.0,656.2C1770.9,655.1 1771.3,651.9 1773.8,650.4C1776.8,648.6 1782.3,645.8 1785.3,647.0C1788.6,648.4 1790.5,653.8 1792.3,659.6C1795.6,670.3 1795.4,691.2 1796.9,708.0C1798.5,726.4 1799.7,748.9 1801.5,765.6C1802.9,778.6 1804.4,786.5 1806.0,800.0C1808.2,819.0 1810.7,846.0 1813.0,869.0C1815.3,892.0 1817.7,938.0 1820.0,938.0C1822.3,938.0 1824.5,892.0 1826.8,869.0C1829.1,846.0 1831.6,820.7 1833.7,800.0C1835.4,783.1 1835.6,766.9 1838.3,754.0C1840.3,744.2 1843.7,728.8 1846.4,728.8C1849.1,728.8 1851.6,745.6 1854.5,754.0C1857.4,762.5 1860.5,779.4 1863.7,779.5C1866.7,779.6 1869.5,759.7 1873.0,758.7C1875.1,758.1 1877.8,764.1 1879.8,763.3C1884.2,761.6 1884.5,725.3 1889.0,724.0C1891.6,723.3 1895.3,733.6 1898.2,733.4C1901.1,733.2 1903.7,722.7 1906.3,723.0C1910.0,723.5 1913.0,740.4 1916.7,747.2C1919.6,752.6 1923.7,754.9 1926.0,761.0C1929.5,770.4 1929.1,785.7 1930.5,800.0C1932.2,817.3 1933.1,838.4 1935.0,857.6C1936.9,876.8 1939.4,915.1 1942.0,915.2C1944.1,915.3 1945.8,884.5 1949.0,878.3C1950.3,875.7 1952.1,873.4 1953.5,873.7C1956.0,874.2 1958.5,892.4 1960.5,892.2C1963.9,891.8 1965.4,852.6 1967.4,834.6C1969.2,818.8 1970.5,805.3 1972.0,790.0C1973.6,773.9 1975.1,740.3 1976.6,740.3C1978.2,740.3 1979.4,779.4 1981.2,800.0C1983.1,822.2 1985.8,844.3 1988.0,869.0C1990.5,897.5 1992.5,932.8 1995.0,961.3C1997.2,986.0 1999.7,1007.4 2002.0,1030.4C2004.3,1053.4 2007.0,1074.3 2008.8,1099.5C2011.0,1129.8 2012.0,1166.7 2013.4,1200.0C2014.8,1232.9 2014.7,1297.9 2017.3,1298.0C2019.0,1298.1 2022.5,1269.1 2024.2,1253.7C2026.0,1237.1 2026.6,1219.2 2027.7,1201.9C2028.9,1184.6 2029.4,1164.9 2031.1,1150.0C2032.4,1138.6 2033.7,1127.2 2036.0,1120.0C2037.4,1115.6 2039.6,1109.8 2041.0,1110.0C2043.2,1110.3 2044.7,1125.5 2046.0,1135.0C2047.7,1147.4 2047.8,1177.9 2049.6,1178.0C2050.8,1178.1 2052.4,1165.1 2054.0,1160.0C2055.2,1156.1 2056.9,1149.8 2058.0,1150.0C2060.2,1150.3 2060.6,1175.1 2062.0,1190.0C2063.7,1208.8 2065.5,1233.6 2067.4,1253.7C2069.1,1271.9 2070.9,1291.9 2072.6,1305.6C2073.7,1314.6 2074.5,1327.9 2076.0,1328.0C2077.4,1328.1 2079.6,1308.9 2081.2,1309.0C2083.1,1309.1 2084.0,1336.5 2086.4,1336.7C2088.5,1336.9 2091.8,1315.8 2094.2,1316.0C2097.1,1316.2 2100.1,1349.2 2102.0,1349.0C2104.8,1348.7 2104.2,1296.2 2105.4,1271.0C2106.5,1247.3 2107.7,1220.8 2108.9,1201.9C2109.7,1188.8 2109.9,1179.8 2111.4,1168.6C2113.0,1157.1 2116.6,1147.6 2118.3,1134.0C2120.7,1115.0 2120.7,1088.0 2121.8,1065.0C2123.0,1042.0 2123.7,1016.8 2125.2,995.8C2126.5,978.2 2127.5,947.7 2129.8,947.4C2131.0,947.3 2132.7,955.2 2134.0,960.0C2135.8,966.3 2137.6,982.1 2139.0,982.0C2141.0,981.9 2142.3,954.5 2143.7,938.2C2145.5,917.8 2146.8,892.5 2148.3,869.1C2149.9,844.8 2151.0,819.8 2152.9,795.0C2154.8,769.9 2157.1,741.2 2159.8,719.5C2161.9,702.9 2162.0,678.6 2166.7,675.7C2168.6,674.5 2171.8,676.1 2173.6,678.0C2176.5,681.1 2175.6,695.8 2178.2,696.4C2180.5,696.9 2184.6,689.7 2187.4,685.0C2191.0,678.9 2194.0,661.7 2196.6,661.9C2199.6,662.2 2201.3,684.1 2203.6,696.4C2206.3,710.6 2208.9,742.5 2211.6,742.5C2214.3,742.5 2215.8,708.1 2219.7,696.4C2222.3,688.6 2226.4,684.9 2229.0,678.0C2232.0,669.9 2231.7,655.0 2235.8,650.4C2238.2,647.7 2242.6,645.7 2245.0,647.0C2249.1,649.1 2250.1,662.4 2252.0,673.4C2255.0,690.9 2254.3,742.2 2257.7,742.5C2260.1,742.7 2264.6,710.4 2267.0,710.3C2268.3,710.3 2269.3,715.5 2270.4,719.5C2272.4,726.6 2274.5,749.5 2276.1,749.4C2278.7,749.3 2277.7,690.5 2282.0,673.4C2284.3,664.1 2286.6,656.9 2291.1,652.7C2294.8,649.4 2300.6,649.2 2305.0,648.0C2309.0,647.0 2313.5,643.7 2316.4,645.8C2322.4,650.2 2319.2,684.9 2322.2,696.4C2323.8,702.6 2326.4,710.5 2328.0,710.3C2331.1,709.8 2331.4,663.4 2333.7,655.0C2334.4,652.3 2335.6,650.8 2336.0,650.0" stroke="#a40000" stroke-width="9"/>
<path d="M182.0,938.0C213.4,938.1 339.4,935.8 370.5,938.5C380.8,939.4 384.4,939.4 391.0,942.0C398.3,944.9 404.4,950.1 412.0,956.0C422.3,964.0 436.1,975.9 446.5,987.0C456.7,997.8 465.4,1009.6 474.0,1021.7C482.6,1033.9 490.3,1047.3 498.0,1059.7C505.3,1071.4 512.4,1082.8 519.0,1094.0C525.2,1104.5 529.5,1116.6 536.4,1125.0C542.4,1132.4 549.6,1139.3 557.0,1142.7C563.6,1145.7 571.0,1146.4 578.0,1146.0C585.3,1145.6 593.1,1143.0 600.0,1140.0C606.8,1137.0 611.9,1132.9 619.0,1128.0C628.6,1121.3 639.9,1113.1 651.8,1103.0C667.4,1089.8 688.3,1069.3 703.7,1054.3C716.4,1041.9 726.0,1029.7 738.0,1019.7C749.1,1010.3 761.4,1001.0 772.8,995.5C782.2,990.9 793.0,985.9 800.5,986.9C806.1,987.6 810.1,990.7 814.3,995.5C821.1,1003.2 826.1,1022.0 831.6,1033.6C836.4,1043.6 841.0,1051.4 845.4,1061.2C850.2,1072.0 853.4,1095.1 859.0,1095.8C864.0,1096.4 869.8,1076.8 876.5,1071.6C881.8,1067.5 888.1,1067.9 893.8,1064.7C900.2,1061.2 907.6,1056.4 912.8,1050.8C917.9,1045.4 921.4,1031.3 925.0,1031.8C929.9,1032.5 933.3,1071.6 937.0,1071.6C940.1,1071.6 941.1,1048.7 945.7,1044.0C948.5,1041.1 953.0,1038.9 956.0,1040.5C962.3,1043.7 966.4,1085.6 969.9,1085.4C973.2,1085.2 973.9,1057.4 976.8,1044.0C979.6,1031.0 981.0,1017.8 987.0,1006.0C993.4,993.5 1004.5,977.6 1014.8,971.3C1022.6,966.5 1030.1,968.2 1040.0,966.0C1054.2,962.9 1074.4,956.6 1091.8,954.0C1109.0,951.5 1125.2,951.9 1143.7,950.6C1165.1,949.1 1194.9,945.7 1212.8,945.4C1224.1,945.2 1231.9,944.9 1240.5,946.5C1248.5,948.0 1255.8,953.8 1263.0,954.0C1269.6,954.2 1273.6,950.1 1282.0,948.9C1297.7,946.6 1336.4,950.5 1351.0,947.0C1358.3,945.2 1361.3,940.7 1366.7,939.5C1371.8,938.4 1376.7,938.5 1382.2,939.5C1388.7,940.6 1395.1,945.7 1403.0,947.0C1412.9,948.7 1425.1,947.2 1437.5,946.5C1452.1,945.7 1473.0,944.2 1485.0,942.0C1492.5,940.6 1495.0,938.2 1503.0,937.0C1518.5,934.6 1555.2,933.4 1572.0,934.8C1581.8,935.6 1588.5,939.6 1595.2,939.4C1600.4,939.3 1605.0,935.2 1609.0,936.0C1612.6,936.7 1615.5,939.4 1618.2,942.9C1622.1,948.0 1625.2,956.5 1627.5,966.0C1630.8,979.9 1630.6,999.5 1632.0,1019.0C1633.7,1043.0 1635.5,1071.2 1636.7,1099.5C1638.1,1131.1 1638.6,1164.9 1639.5,1200.0C1640.5,1238.7 1640.5,1286.8 1642.2,1322.0C1643.5,1348.9 1645.9,1393.0 1647.4,1393.0C1648.9,1393.0 1649.8,1346.3 1651.0,1323.0C1652.1,1299.8 1653.3,1279.1 1654.3,1253.7C1655.6,1222.6 1656.1,1178.4 1657.8,1150.0C1659.0,1130.2 1660.9,1116.2 1662.0,1099.5C1663.1,1083.2 1660.1,1058.3 1664.3,1051.0C1666.0,1048.0 1669.0,1046.3 1671.2,1046.5C1673.6,1046.8 1675.5,1051.6 1678.2,1053.5C1680.9,1055.4 1684.6,1058.6 1687.4,1058.0C1690.8,1057.2 1694.0,1050.9 1696.6,1046.5C1699.4,1041.8 1701.4,1036.3 1703.5,1030.4C1706.0,1023.5 1707.9,1015.4 1710.4,1007.4C1713.2,998.6 1716.2,987.9 1719.6,979.7C1722.4,972.8 1725.2,965.9 1728.8,961.3C1731.6,957.7 1734.6,953.6 1738.0,953.2C1741.5,952.7 1745.8,956.9 1749.6,959.0C1753.5,961.1 1757.1,965.7 1761.0,966.0C1764.8,966.3 1769.1,963.6 1772.6,961.3C1776.4,958.8 1779.5,951.4 1783.0,951.0C1786.1,950.6 1790.0,953.1 1792.3,956.7C1796.7,963.6 1795.3,983.3 1796.9,995.9C1798.4,1007.8 1800.0,1018.9 1801.5,1030.4C1803.0,1041.9 1804.4,1052.0 1806.0,1065.0C1808.1,1081.8 1810.5,1104.3 1813.0,1122.6C1815.2,1139.2 1817.8,1170.0 1820.0,1170.0C1822.4,1170.0 1824.6,1131.4 1826.8,1111.0C1829.2,1088.9 1831.2,1061.0 1833.7,1042.0C1835.5,1028.5 1836.4,1015.3 1839.5,1007.4C1841.4,1002.7 1844.3,996.7 1846.4,997.0C1849.4,997.4 1851.6,1013.3 1854.5,1021.2C1857.4,1029.0 1860.9,1044.2 1863.7,1044.2C1866.2,1044.2 1867.1,1028.8 1870.6,1027.0C1873.1,1025.7 1877.2,1030.8 1879.8,1029.3C1884.6,1026.5 1884.7,998.3 1889.0,997.0C1891.6,996.2 1895.4,1005.3 1898.2,1005.0C1901.2,1004.6 1903.8,993.2 1906.3,993.5C1909.4,993.9 1911.2,1008.2 1914.4,1014.3C1917.1,1019.5 1921.1,1022.0 1923.6,1028.0C1927.3,1037.1 1928.6,1052.0 1930.5,1065.0C1932.6,1079.5 1932.9,1096.6 1935.0,1111.0C1936.9,1124.0 1939.4,1147.8 1942.0,1147.9C1944.2,1148.0 1946.1,1127.0 1949.0,1122.6C1950.4,1120.6 1951.9,1118.9 1953.5,1119.1C1955.9,1119.4 1959.5,1130.1 1961.6,1129.5C1965.9,1128.3 1965.1,1094.0 1967.4,1076.5C1969.7,1059.1 1972.8,1024.8 1975.4,1024.7C1977.4,1024.7 1979.4,1041.8 1981.2,1053.5C1983.9,1071.5 1985.4,1101.9 1988.0,1122.6C1990.1,1139.5 1992.9,1154.8 1995.0,1168.7C1996.7,1180.1 1998.1,1188.1 1999.6,1200.0C2001.5,1215.5 2003.6,1233.7 2005.2,1253.7C2007.3,1279.1 2008.7,1310.9 2010.4,1340.0C2012.2,1369.7 2012.7,1429.7 2015.6,1430.0C2017.0,1430.1 2019.3,1418.3 2020.7,1409.3C2023.3,1393.0 2023.9,1359.1 2026.0,1340.0C2027.5,1326.5 2027.8,1314.9 2031.1,1305.6C2033.6,1298.5 2038.8,1287.8 2041.5,1288.3C2045.5,1289.1 2045.2,1331.2 2048.4,1331.5C2051.2,1331.7 2056.0,1300.2 2058.8,1300.4C2061.9,1300.6 2063.8,1325.4 2065.7,1340.0C2068.0,1358.0 2067.4,1389.7 2070.9,1400.6C2072.3,1405.0 2073.9,1408.9 2076.0,1409.3C2078.0,1409.7 2081.1,1403.3 2083.0,1404.0C2086.0,1405.1 2086.2,1426.5 2088.2,1426.6C2090.0,1426.7 2092.2,1409.2 2094.2,1409.3C2096.8,1409.4 2100.0,1440.2 2102.0,1440.0C2104.9,1439.8 2105.7,1395.2 2107.2,1374.7C2108.5,1356.4 2108.9,1340.1 2110.6,1322.9C2112.3,1305.6 2115.8,1288.3 2117.5,1271.0C2119.2,1253.7 2119.8,1236.1 2121.0,1219.0C2122.1,1202.4 2123.2,1185.1 2124.5,1170.0C2125.6,1157.1 2126.1,1134.2 2128.0,1134.0C2129.1,1133.9 2130.7,1140.7 2132.0,1145.0C2133.7,1150.8 2135.5,1166.1 2137.0,1166.0C2139.7,1165.8 2141.8,1121.9 2143.7,1099.5C2145.6,1076.7 2145.8,1049.4 2148.3,1030.4C2150.1,1016.8 2152.9,1007.3 2155.2,995.8C2157.5,984.3 2159.3,971.3 2162.0,961.3C2164.1,953.4 2166.2,941.0 2169.0,940.5C2171.1,940.2 2172.9,948.2 2176.0,949.7C2179.1,951.2 2184.2,951.3 2187.4,949.7C2190.9,947.9 2193.1,937.9 2195.5,938.2C2198.7,938.6 2201.2,952.2 2203.6,961.3C2206.9,973.9 2208.6,1007.2 2211.6,1007.3C2214.1,1007.4 2216.0,983.3 2219.7,975.0C2222.3,969.2 2226.2,966.6 2229.0,961.3C2232.4,954.8 2233.7,941.1 2238.0,938.2C2240.6,936.4 2245.0,936.2 2247.3,938.2C2251.8,942.1 2250.4,960.6 2252.0,972.8C2253.8,986.5 2254.6,1016.2 2257.7,1016.5C2260.1,1016.8 2264.2,991.0 2267.0,991.2C2270.1,991.4 2272.9,1023.6 2275.0,1023.4C2277.9,1023.2 2276.8,975.1 2280.7,961.3C2282.8,953.9 2285.2,949.0 2288.8,945.1C2291.9,941.7 2296.0,939.7 2300.3,938.2C2305.1,936.5 2312.7,933.5 2316.4,936.0C2321.0,939.2 2319.6,955.1 2322.2,961.3C2323.9,965.3 2326.4,970.8 2328.0,970.5C2330.7,970.0 2331.9,948.2 2333.7,942.8C2334.5,940.5 2335.6,938.8 2336.0,938.0" stroke="#ff8000" stroke-width="9.2"/>
</g>
<g stroke="#000" stroke-width="4" stroke-dasharray="10.6 13.3" stroke-linecap="round" fill="none">
<line x1="577.0" y1="41" x2="577.0" y2="1633.4"/>
<line x1="1645.4" y1="35.2" x2="1645.4" y2="1633.4"/>
<line x1="1696.9" y1="41" x2="1696.9" y2="1633.4"/>
<line x1="2020.8" y1="43.3" x2="2020.8" y2="1633.4"/>
<line x1="2178.0" y1="43.3" x2="2178.0" y2="1633.4"/>
</g>
<g stroke="#000" stroke-width="8.6" fill="none" stroke-linecap="round" stroke-linejoin="round">
<path d="M177.5,44.5 H2339.4 V1633.4 H177.5 Z" stroke-linejoin="miter"/>
<line x1="177.5" y1="44.5" x2="146" y2="44.5"/>
<line x1="177.5" y1="1633.4" x2="146" y2="1633.4"/>
<line x1="177.5" y1="1633.4" x2="177.5" y2="1665"/>
<line x1="338.9" y1="1633.4" x2="338.9" y2="1649.5"/>
<line x1="500.2" y1="1633.4" x2="500.2" y2="1665"/>
<line x1="661.5" y1="1633.4" x2="661.5" y2="1649.5"/>
<line x1="822.9" y1="1633.4" x2="822.9" y2="1665"/>
<line x1="984.2" y1="1633.4" x2="984.2" y2="1649.5"/>
<line x1="1145.6" y1="1633.4" x2="1145.6" y2="1665"/>
<line x1="1307.0" y1="1633.4" x2="1307.0" y2="1649.5"/>
<line x1="1468.3" y1="1633.4" x2="1468.3" y2="1665"/>
<line x1="1629.6" y1="1633.4" x2="1629.6" y2="1649.5"/>
<line x1="1791.0" y1="1633.4" x2="1791.0" y2="1665"/>
<line x1="1952.3" y1="1633.4" x2="1952.3" y2="1649.5"/>
<line x1="2113.7" y1="1633.4" x2="2113.7" y2="1665"/>
<line x1="2275.0" y1="1633.4" x2="2275.0" y2="1649.5"/>
</g>
<g font-family="Liberation Sans, Arial, sans-serif" font-weight="bold" font-size="74.5" text-anchor="middle" fill="#000">
<text transform="translate(179.0,1743.3) scale(1,1.08)">4000</text>
<text transform="translate(501.7,1743.3) scale(1,1.08)">3500</text>
<text transform="translate(824.4,1743.3) scale(1,1.08)">3000</text>
<text transform="translate(1147.1,1743.3) scale(1,1.08)">2500</text>
<text transform="translate(1469.8,1743.3) scale(1,1.08)">2000</text>
<text transform="translate(1792.5,1743.3) scale(1,1.08)">1500</text>
<text transform="translate(2115.2,1743.3) scale(1,1.08)">1000</text>
</g>
<g font-family="Liberation Sans, Arial, sans-serif" font-weight="bold" fill="#000">
<text transform="translate(882.5,1898.3) scale(1,1.05)" font-size="84.5" textLength="684" lengthAdjust="spacingAndGlyphs">Wavenumber (cm</text>
<text transform="translate(1565.5,1851.4) scale(1,1.05)" font-size="50.5">-1</text>
<text transform="translate(1606.5,1898.3) scale(1,1.05)" font-size="84.5">)</text>
<text transform="translate(96,1188.5) rotate(-90) scale(1,1.02)" font-size="85" textLength="733" lengthAdjust="spacingAndGlyphs">Transmittance (%)</text>
</g>
<rect x="1078.5" y="992.5" width="520.5" height="570" fill="none" stroke="#000" stroke-width="3"/>
<g stroke-linecap="round">
<line x1="1104.4" y1="1045.5" x2="1277.5" y2="1045.5" stroke="#000000" stroke-width="9"/>
<line x1="1104.4" y1="1140.0" x2="1277.5" y2="1140.0" stroke="#ff0000" stroke-width="6"/>
<line x1="1104.4" y1="1234.6" x2="1277.5" y2="1234.6" stroke="#008000" stroke-width="9"/>
<line x1="1104.4" y1="1329.2" x2="1277.5" y2="1329.2" stroke="#0000ff" stroke-width="6"/>
<line x1="1104.4" y1="1423.8" x2="1277.5" y2="1423.8" stroke="#a40000" stroke-width="9"/>
<line x1="1104.4" y1="1518.3" x2="1277.5" y2="1518.3" stroke="#ff8000" stroke-width="9.2"/>
</g>
<g font-family="Liberation Sans, Arial, sans-serif" font-size="77.2" fill="#000">
<text transform="translate(1303,1072.6) scale(1,1.05)">1-1_KS</text>
<text transform="translate(1303,1167.1) scale(1,1.05)">1-1_100</text>
<text transform="translate(1303,1261.7) scale(1,1.05)">1-3_KS</text>
<text transform="translate(1303,1356.3) scale(1,1.05)">1-3_100</text>
<text transform="translate(1303,1450.9) scale(1,1.05)">1-5_KS</text>
<text transform="translate(1303,1545.4) scale(1,1.05)">1-5_100</text>
</g>
<g font-family="Liberation Sans, Arial, sans-serif" font-size="77.5" fill="#000">
<text transform="translate(603,1541.8) scale(1,1.05)">OH</text>
<text transform="translate(1654.5,1597.4) scale(1,1.05)">C=O</text>
<text transform="translate(1708,1370.2) scale(1,1.05)">amide I</text>
<text transform="translate(1875.3,1531.0) scale(1,1.05)">C-N</text>
<text transform="translate(2071,1565.4) scale(1,1.05)">C-O-C</text>
</g>
</svg>
</body></html>
